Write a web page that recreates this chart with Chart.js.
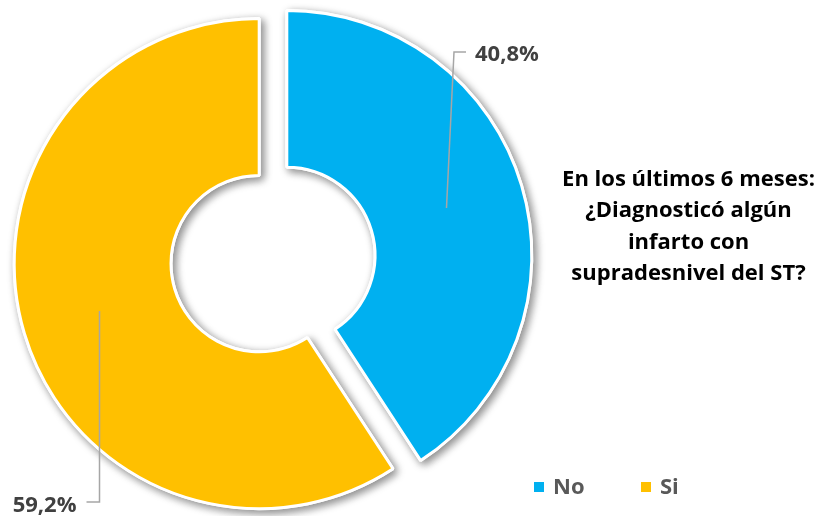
<!DOCTYPE html>
<html>
<head>
<meta charset="utf-8">
<script src="https://cdn.jsdelivr.net/npm/chart.js@4.4.1/dist/chart.umd.min.js"></script>
<style>
    html, body { margin: 0; padding: 0; background: #fff; }
    #wrap { position: relative; width: 821px; height: 516px; overflow: hidden; }
    #c { position: absolute; left: 0; top: 0; }
    .chart-title {
        position: absolute; left: 548px; top: 162px; width: 281px;
        font-family: "Open Sans", sans-serif; font-weight: bold; font-size: 22px;
        line-height: 31.3px; text-align: center; color: #000;
    }
    .legend-item {
        position: absolute; top: 470px; height: 30px; line-height: 30px;
        font-family: "Open Sans", sans-serif; font-weight: bold; font-size: 22px; color: #595959;
        white-space: nowrap;
    }
    .legend-box { position: absolute; width: 10px; height: 10px; top: 12px; left: 0; }
</style>
</head>
<body>
<div id="wrap">
    <canvas id="c" width="821" height="516"></canvas>
    <div id="title" class="chart-title"></div>
    <div id="legend"></div>
</div>
<script>
// --- Chart data ---
const categories = ['No', 'Si'];
const percentValues = [40.8, 59.2];
const titleLines = ['En los últimos 6 meses:', '¿Diagnosticó algún', 'infarto con', 'supradesnivel del ST?'];

// --- Styles ---
const sliceColors = ['#00B0F0', '#FFC000'];
const explodeDistance = 14.4;
// leader line: elbow relative to slice centroid, then a short horizontal tail
const leaderLayout = [
    { elbowDx: 7.5, elbowDy: -156, tail: 12, gap: 9 },
    { elbowDx: 0, elbowDy: 191, tail: -13, gap: 10 }
];
const legendLeft = [534, 641];

function formatPercent(v) {
    return v.toFixed(1).replace('.', ',') + '%';
}

// Pulls every slice outwards along its middle angle (Excel style exploded pie)
const explodePlugin = {
    id: 'explode',
    afterDatasetUpdate(chart, args) {
        args.meta.data.forEach(arc => {
            const mid = (arc.startAngle + arc.endAngle) / 2;
            arc.x += Math.cos(mid) * explodeDistance;
            arc.y += Math.sin(mid) * explodeDistance;
        });
    }
};

// Draws a soft shadow pass under the slices, the normal draw covers it afterwards
const shadowPlugin = {
    id: 'sliceShadow',
    beforeDatasetDraw(chart, args) {
        const ctx = chart.ctx;
        ctx.save();
        ctx.shadowColor = 'rgba(0, 0, 0, 0.45)';
        ctx.shadowBlur = 8;
        ctx.shadowOffsetX = 3;
        ctx.shadowOffsetY = 3;
        args.meta.data.forEach(arc => arc.draw(ctx));
        ctx.restore();
    }
};

// Percentage labels with bent leader lines
const leaderLabelPlugin = {
    id: 'leaderLabels',
    afterDatasetsDraw(chart) {
        const ctx = chart.ctx;
        const meta = chart.getDatasetMeta(0);
        ctx.save();
        ctx.font = 'bold 22px "Open Sans", sans-serif';
        ctx.fillStyle = '#404040';
        ctx.strokeStyle = '#A6A6A6';
        ctx.lineWidth = 1.5;
        ctx.textBaseline = 'alphabetic';
        meta.data.forEach((arc, i) => {
            const p = arc.getCenterPoint();
            const lay = leaderLayout[i];
            const ex = p.x + lay.elbowDx;
            const ey = p.y + lay.elbowDy;
            const tx = ex + lay.tail;
            ctx.beginPath();
            ctx.moveTo(p.x, p.y);
            ctx.lineTo(ex, ey);
            ctx.lineTo(tx, ey);
            ctx.stroke();
            const toRight = lay.tail > 0;
            ctx.textAlign = toRight ? 'left' : 'right';
            ctx.fillText(formatPercent(percentValues[i]), tx + (toRight ? lay.gap : -lay.gap), ey + 9.5);
        });
        ctx.restore();
    }
};

function buildTitleAndLegend() {
    document.getElementById('title').innerHTML = titleLines.join('<br>');
    let legendHTML = '';
    categories.forEach((cat, i) => {
        legendHTML += `
        <div class="legend-item" style="left: ${legendLeft[i]}px; padding-left: 19px;">
            <span class="legend-box" style="background: ${sliceColors[i]};"></span>${cat}
        </div>`;
    });
    document.getElementById('legend').innerHTML = legendHTML;
}

function drawChart() {
    const ctx = document.getElementById('c');
    new Chart(ctx, {
        type: 'doughnut',
        data: {
            labels: categories,
            datasets: [{
                data: percentValues,
                backgroundColor: sliceColors,
                borderColor: '#FFFFFF',
                borderWidth: 3,
                hoverOffset: 0
            }]
        },
        options: {
            responsive: false,
            animation: false,
            radius: 245,
            cutout: '36%',
            layout: { padding: { left: 0, right: 275, top: 3, bottom: 0 } },
            plugins: {
                legend: { display: false },
                tooltip: { enabled: false }
            }
        },
        plugins: [explodePlugin, shadowPlugin, leaderLabelPlugin]
    });
}

buildTitleAndLegend();
drawChart();
</script>
</body>
</html>
